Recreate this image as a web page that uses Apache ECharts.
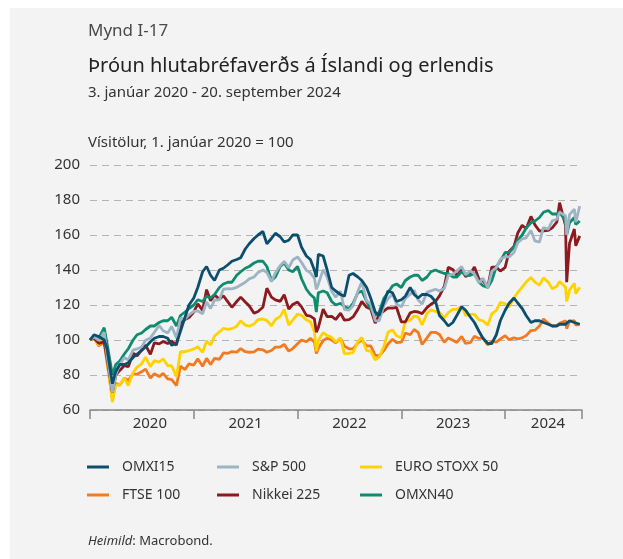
<!DOCTYPE html>
<html>
<head>
<meta charset="utf-8">
<script src="https://cdn.jsdelivr.net/npm/echarts@6/dist/echarts.min.js"></script>
<style>
  html, body { margin: 0; padding: 0; background: #fff; }
  #chart { width: 623px; height: 559px; }
</style>
</head>
<body>
<div id="chart"></div>
<script>
// dagsetningar (1. og 15. hvers mánaðar + nokkrir aukapunktar)
const dates = [
  '2020-01-01','2020-01-15','2020-02-01','2020-02-20','2020-03-01','2020-03-20','2020-04-01','2020-04-15','2020-05-01','2020-05-15','2020-06-01','2020-06-15',
  '2020-07-01','2020-07-15','2020-08-01','2020-08-15','2020-09-01','2020-09-15','2020-10-01','2020-10-15','2020-11-01','2020-11-15','2020-12-01','2020-12-15',
  '2021-01-01','2021-01-15','2021-02-01','2021-02-15','2021-03-01','2021-03-15','2021-04-01','2021-04-15','2021-05-01','2021-05-15','2021-06-01','2021-06-15',
  '2021-07-01','2021-07-15','2021-08-01','2021-08-15','2021-09-01','2021-09-15','2021-10-01','2021-10-15','2021-11-01','2021-11-15','2021-12-01','2021-12-15',
  '2022-01-01','2022-01-15','2022-02-01','2022-02-15','2022-03-01','2022-03-08','2022-03-15','2022-04-01','2022-04-15','2022-05-01','2022-05-15','2022-06-01','2022-06-15',
  '2022-07-01','2022-07-15','2022-08-01','2022-08-15','2022-09-01','2022-09-15','2022-10-01','2022-10-15','2022-11-01','2022-11-15','2022-12-01','2022-12-15',
  '2023-01-01','2023-01-15','2023-02-01','2023-02-15','2023-03-01','2023-03-15','2023-04-01','2023-04-15','2023-05-01','2023-05-15','2023-06-01','2023-06-15',
  '2023-07-01','2023-07-15','2023-08-01','2023-08-15','2023-09-01','2023-09-15','2023-10-01','2023-10-15','2023-11-01','2023-11-15','2023-12-01','2023-12-15',
  '2024-01-01','2024-01-15','2024-02-01','2024-02-15','2024-03-01','2024-03-15','2024-04-01','2024-04-15','2024-05-01','2024-05-15','2024-06-01','2024-06-15',
  '2024-07-01','2024-07-11','2024-08-01','2024-08-05','2024-08-15','2024-09-01','2024-09-06','2024-09-20'
];

const omxi15 = [
  100, 103, 102, 100, 95, 75, 82, 86, 86, 87, 90, 92, 94, 96, 99, 101, 102, 102, 101, 97, 98, 105, 113, 120,
  124, 130, 139, 142, 137, 134, 140, 141, 143, 145, 146, 147, 152, 155, 158, 160, 162, 155, 158, 161, 159, 156, 157, 160,
  160, 153, 148, 146, 140, 136, 149, 148, 140, 130, 128, 126, 125, 137, 138, 136, 134, 130, 124, 116, 114, 122, 128, 127, 122,
  123, 125, 130, 126, 124, 126, 126, 125, 122, 114, 111, 108, 110, 114, 119, 117, 113, 110, 105, 101, 98, 98, 103, 111,
  117, 121, 124, 121, 118, 114, 110, 111, 111, 110, 109, 108, 108, 109, 109, 108, 111, 110, 109, 109
];
const sp500 = [
  100, 101.8, 99.8, 104.5, 91.4, 70, 80, 86.1, 90, 88.6, 94.2, 94.9, 96, 99.9, 101.2, 104.4, 108.3, 105.3, 104, 107.8, 101.2, 112.3, 112, 114.3,
  116.3, 116.6, 115, 121.7, 118, 122.8, 123, 129, 129.4, 129.2, 130.1, 131.4, 133, 134.9, 136, 138.6, 140, 138.7, 133.3, 138.4, 142.5, 144.9, 141.3, 145.7,
  147.5, 144.3, 139.8, 138.4, 135.4, 129, 131.9, 140.2, 136, 127.9, 124.5, 127.9, 117.3, 117.1, 119.6, 127.8, 133.2, 122.4, 120.7, 111, 110.9, 119.8, 123.6, 126.3, 120.6,
  118.9, 123.8, 126.2, 128.4, 122.9, 120.5, 127.2, 128.1, 129, 128, 129.4, 137, 137.7, 139.4, 142, 137.3, 139.5, 137.7, 132.7, 135.3, 129.8, 139.3, 141.4, 146.1,
  147.6, 147.5, 150, 155.7, 157.7, 158.4, 162.6, 156.6, 155.9, 164.3, 163.4, 168.1, 169, 173, 171, 160, 171.6, 174.8, 167.4, 176.5
];
const eurostoxx = [
  100, 100.6, 97.2, 103, 88.9, 64.5, 74.4, 74.3, 78.2, 74, 81.4, 84.5, 86.4, 90.2, 84.8, 88.2, 87.4, 89.3, 85.3, 85.3, 79, 93.3, 93.3, 93.9,
  94.9, 96.1, 93, 99.5, 97.1, 102.3, 104.6, 106.6, 106.1, 106.5, 107.9, 111, 108.5, 107.9, 109.2, 111.7, 112, 111.2, 108.1, 111.7, 113.5, 117.5, 108.5, 111.3,
  114.8, 114.1, 111.5, 110.5, 104.8, 93.6, 99.9, 104.2, 102.5, 101.5, 98.9, 101.2, 92.1, 92.3, 92.8, 99, 101.5, 93.9, 93.7, 88.6, 90.3, 96.6, 104.4, 105.9, 102.4,
  101.3, 110.8, 111.2, 113.7, 113.2, 108.6, 115.2, 117.2, 116.4, 115.7, 112.6, 115.6, 117.5, 117.5, 119.4, 114.1, 114.7, 114.7, 111.5, 111, 108.4, 114.9, 117, 121.5,
  120.7, 118.9, 124.1, 127.3, 130.2, 133.1, 135.7, 133.1, 131.4, 135.5, 133.1, 129.2, 130.7, 133.5, 130.1, 122, 128.5, 132.4, 126.5, 130.1
];
const ftse100 = [
  100, 101.3, 96.6, 98.6, 87.3, 67, 75.2, 74.2, 78.2, 76.9, 80.6, 80.4, 81.8, 83.4, 78.2, 80.7, 79.1, 80.9, 77.8, 77.3, 74, 85.1, 83.1, 86.4,
  85.7, 89.3, 85, 89.5, 86, 89.5, 89, 92.6, 92.4, 93.4, 93.1, 95.1, 93.3, 93, 93.2, 94.8, 94.4, 93, 94, 95.9, 96, 97.5, 93.6, 95.1,
  97.9, 100, 99, 100.9, 98.9, 92.3, 95.1, 99.7, 101, 100, 98.4, 100.9, 96.4, 95, 94.9, 98.4, 99.9, 96.6, 96.6, 91.4, 90.9, 94.1, 97.7, 100.4, 98.5,
  98.8, 104, 103, 106, 104.4, 97.4, 101.2, 104.4, 104.4, 103.1, 98.7, 101.1, 99.9, 98.6, 102.1, 98, 98.6, 102.2, 100.9, 101.2, 97.1, 99.3, 98.8, 100.5,
  102.5, 100.2, 101.2, 100.7, 101.2, 102.5, 105.4, 105.6, 108, 112, 109.7, 108, 108.2, 109.5, 111, 106.5, 110.7, 111.1, 108.5, 109.1
];
const nikkei225 = [
  100, 101.1, 98.1, 99, 89.4, 70, 80, 82.6, 85.4, 84.7, 92.5, 91, 94.2, 97, 91.8, 98.4, 97.8, 99.1, 98, 99.4, 97.1, 109.5, 111.7, 112.8,
  116, 120.6, 116.9, 128.8, 122.4, 125.8, 123.3, 125.3, 121.8, 118.7, 122, 124.5, 121.7, 119.5, 115.3, 116.3, 118.7, 129.6, 124.5, 122.9, 122.1, 125.9, 117.6, 120.3,
  121.7, 118.9, 114.1, 113.6, 112.1, 104.5, 107.1, 117.6, 113.3, 113.5, 111.7, 115.3, 111.3, 111.6, 113.2, 117.5, 122, 118.7, 117.8, 109.6, 114.5, 116.6, 118.3, 118.2, 118.6,
  110.3, 110.4, 115.5, 116.3, 116, 115.1, 118.5, 120.4, 122, 125.2, 130.6, 141.5, 140.3, 136.9, 140.2, 136.3, 137.9, 141.7, 134.7, 133.8, 130.4, 141.7, 141.6, 139.4,
  141.5, 150.6, 153.4, 161.3, 165.6, 163.6, 170.6, 165.8, 162.3, 162.3, 162.7, 164.1, 167.3, 178.5, 165.3, 133, 155.2, 163.4, 153.8, 159.5
];
const omxn40 = [
  100, 102, 101, 107, 98, 80, 86, 88, 92, 95, 100, 103, 104, 106, 108, 108, 110, 111, 111, 113, 108, 114, 116, 118,
  120, 123, 122, 125, 124, 126, 130, 132, 133, 133, 137, 139, 141, 142, 144, 145, 145, 142, 134, 136, 142, 144, 140, 139,
  142, 135, 129, 126, 124, 116, 127, 128, 127, 122, 120, 121, 119, 118, 121, 127, 128, 122, 118, 114, 116, 124, 127, 131, 132,
  130, 134, 136, 137, 137, 134, 136, 139, 140, 139, 138, 138, 136, 136, 139, 137, 137, 138, 133, 131, 130, 134, 142, 145,
  150, 150, 153, 157, 160, 164, 167, 168, 170, 173, 174, 172, 172, 173, 168, 160, 167, 170, 166, 168
];

// ás: ár sem tugabrot
const yearTicks = ['2020-01-01', '2021-01-01', '2022-01-01', '2023-01-01', '2024-01-01', '2024-09-28'];
const yearLabels = ['2020-07-30', '2021-07-02', '2022-07-02', '2023-07-02', '2024-05-31'];

const colors = {
  'OMXI15': '#0b4f6c',
  'S&P 500': '#9db4c4',
  'EURO STOXX 50': '#ffd200',
  'FTSE 100': '#f47a20',
  'Nikkei 225': '#8c1a1f',
  'OMXN40': '#0f8b6d'
};

const font = '"Noto Sans", "Open Sans", sans-serif';

// dagsetning -> ár (t.d. 2020.5)
const yr = (s) => {
  const d = new Date(s + 'T00:00:00Z');
  const y = d.getUTCFullYear();
  const a = Date.UTC(y, 0, 1), b = Date.UTC(y + 1, 0, 1);
  return y + (d.getTime() - a) / (b - a);
};

const mkSeries = (name, values) => ({
  name: name,
  type: 'line',
  symbol: 'none',
  color: colors[name],
  lineStyle: { width: 2.8, color: colors[name] },
  emphasis: { disabled: true },
  data: values.map((v, i) => [yr(dates[i]), v])
});

const legendBase = (names, left) => ({
  data: names,
  left: left,
  top: 457,
  padding: 0,
  orient: 'vertical',
  itemGap: 8,
  itemWidth: 22,
  itemHeight: 3,
  icon: 'rect',
  selectedMode: false,
  textStyle: { fontSize: 14, lineHeight: 20, color: '#333', fontFamily: font, padding: [0, 0, 0, 8] }
});

const titleBase = (text, top, size, lh, color) => ({
  text: text, left: 88, top: top, padding: 0,
  textStyle: { fontSize: size, lineHeight: lh, fontWeight: 'normal', color: color, fontFamily: font }
});

const chart = echarts.init(document.getElementById('chart'));

const option = {
  animation: false,
  backgroundColor: '#ffffff',
  textStyle: { fontFamily: font },
  graphic: [
    { type: 'rect', z: -10, shape: { x: 10, y: 8, width: 613, height: 551 }, style: { fill: '#f3f3f3' } }
  ],
  title: [
    titleBase('Mynd I-17', 20, 17, 22, '#4a4a4a'),
    titleBase('Þróun hlutabréfaverðs á Íslandi og erlendis', 53, 20, 26, '#222'),
    titleBase('3. janúar 2020 - 20. september 2024', 83, 15, 20, '#333'),
    titleBase('Vísitölur, 1. janúar 2020 = 100', 133, 15, 20, '#333'),
    {
      text: '{i|Heimild}: Macrobond.', left: 88, top: 532, padding: 0,
      textStyle: {
        fontSize: 13, lineHeight: 18, fontWeight: 'normal', color: '#333', fontFamily: font,
        rich: { i: { fontStyle: 'italic', fontSize: 13, color: '#333', fontFamily: font } }
      }
    }
  ],
  legend: [
    legendBase(['OMXI15', 'FTSE 100'], 87),
    legendBase(['S&P 500', 'Nikkei 225'], 217),
    legendBase(['EURO STOXX 50', 'OMXN40'], 360)
  ],
  grid: { left: 90, right: 41, top: 165, bottom: 149, containLabel: false },
  xAxis: {
    type: 'value',
    min: 2020,
    max: yr('2024-09-28'),
    axisLine: { lineStyle: { color: '#888', width: 1.5 } },
    axisTick: { show: true, length: 9, customValues: yearTicks.map(yr), lineStyle: { color: '#888', width: 1.5 } },
    axisLabel: {
      customValues: yearLabels.map(yr),
      formatter: (v) => String(Math.floor(v)),
      fontSize: 15, color: '#333', margin: 6, fontFamily: font
    },
    splitLine: { show: false }
  },
  yAxis: {
    type: 'value',
    min: 60,
    max: 200,
    interval: 20,
    axisLine: { show: false },
    axisTick: { show: false },
    axisLabel: { fontSize: 15, color: '#333', margin: 10, fontFamily: font },
    splitLine: { lineStyle: { type: [7, 5], color: '#b3b3b3', width: 1.2 } }
  },
  series: [
    mkSeries('FTSE 100', ftse100),
    mkSeries('EURO STOXX 50', eurostoxx),
    mkSeries('Nikkei 225', nikkei225),
    mkSeries('OMXN40', omxn40),
    mkSeries('S&P 500', sp500),
    mkSeries('OMXI15', omxi15)
  ]
};

chart.setOption(option);
</script>
</body>
</html>
